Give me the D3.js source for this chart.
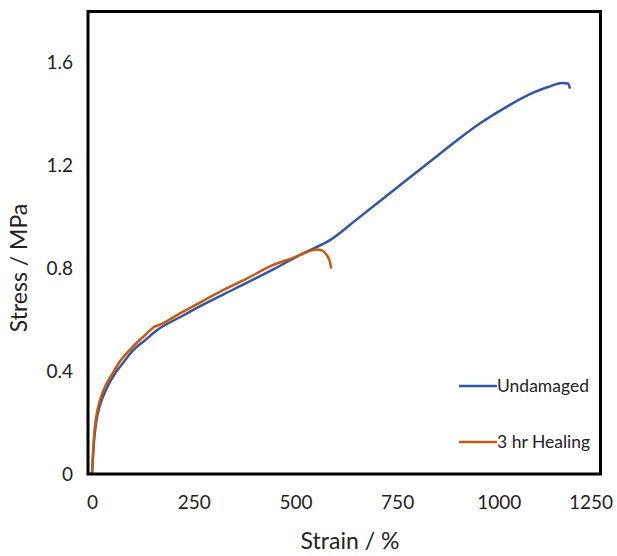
<!DOCTYPE html>
<html>
<head>
<meta charset="utf-8">
<script src="https://cdn.jsdelivr.net/npm/d3@7"></script>
<style>
	body { margin: 0; background: #fff; }
	svg { display: block; }
</style>
</head>
<body>
<div id="container"></div>
<script>

// ==============
//	DATA
// ==============

// Undamaged sample: strain (%) and stress (MPa)
var undamagedStrain = [0, 2, 5, 10, 20, 35, 52, 75, 100, 130, 160, 216, 274, 350, 450, 520, 585, 650, 750, 850, 954, 1020, 1086, 1119, 1156, 1170, 1175];
var undamagedStress = [0, 0.06, 0.13, 0.20, 0.27, 0.33, 0.38, 0.43, 0.48, 0.52, 0.56, 0.61, 0.66, 0.72, 0.80, 0.86, 0.91, 0.99, 1.115, 1.24, 1.365, 1.43, 1.485, 1.505, 1.522, 1.520, 1.50];

// 3 hr healing sample
var healedStrain = [0, 2, 5, 10, 20, 35, 50, 65, 97, 130, 155, 165, 216, 274, 315, 380, 440, 500, 530, 552, 565, 578, 584, 588];
var healedStress = [0, 0.07, 0.15, 0.22, 0.29, 0.35, 0.39, 0.43, 0.49, 0.54, 0.575, 0.58, 0.625, 0.675, 0.71, 0.76, 0.81, 0.845, 0.865, 0.874, 0.87, 0.85, 0.83, 0.80];

var xTicks = [0, 250, 500, 750, 1000, 1250];
var yTicks = [0, 0.4, 0.8, 1.2, 1.6];

var seriesNames = ["Undamaged", "3 hr Healing"];

// ==============
//	OPTIONS
// ==============

var width = 617,
	height = 556,
	plot = {left: 88, right: 600.5, top: 11.5, bottom: 474};

var colours = {
	"Undamaged": "#2f55a4",
	"3 hr Healing": "#c65911"
};

var fontFamily = "Lato, 'Open Sans', sans-serif";

// ==============
//	DRAW
// ==============

var svg = d3.select("#container").append("svg")
	.attr("width", width)
	.attr("height", height);

var x = d3.scaleLinear()
	.domain([-10, 1250])
	.range([plot.left, plot.right]);

var y = d3.scaleLinear()
	.domain([0, 1.8])
	.range([plot.bottom, plot.top]);

var series = [
	{name: seriesNames[0], pts: undamagedStrain.map((s, i) => [s, undamagedStress[i]])},
	{name: seriesNames[1], pts: healedStrain.map((s, i) => [s, healedStress[i]])}
];

var line = d3.line()
	.x(d => x(d[0]))
	.y(d => y(d[1]))
	.curve(d3.curveMonotoneX);

// === lines
svg.append("g")
	.attr("fill", "none")
	.attr("stroke-width", 2.5)
	.attr("stroke-linejoin", "round")
	.selectAll("path")
		.data(series)
		.join("path")
		.attr("stroke", d => colours[d.name])
		.attr("d", d => line(d.pts));

// === frame
svg.append("rect")
	.attr("x", plot.left)
	.attr("y", plot.top)
	.attr("width", plot.right - plot.left)
	.attr("height", plot.bottom - plot.top)
	.attr("fill", "none")
	.attr("stroke", "#000")
	.attr("stroke-width", 3);

// === axes (labels only, no tick marks)
var xAxis = svg.append("g")
	.attr("transform", "translate(0," + plot.bottom + ")")
	.call(d3.axisBottom(x).tickValues(xTicks).tickSize(0).tickPadding(22).tickFormat(d3.format("d")));

xAxis.select(".domain").remove();
xAxis.selectAll("text")
	.attr("dx", d => d === 1250 ? "-10" : 0);

var yAxis = svg.append("g")
	.attr("transform", "translate(" + plot.left + ",0)")
	.call(d3.axisLeft(y).tickValues(yTicks).tickSize(0).tickPadding(15).tickFormat(d => d === 0 ? "0" : d3.format(".1f")(d)));

yAxis.select(".domain").remove();

svg.selectAll(".tick text")
	.style("font-family", fontFamily)
	.style("font-size", "19px")
	.attr("fill", "#222");

// === axis titles
svg.append("text")
	.attr("x", 350)
	.attr("y", 549)
	.attr("text-anchor", "middle")
	.style("font-family", fontFamily)
	.style("font-size", "23px")
	.attr("fill", "#222")
	.text("Strain / %");

svg.append("text")
	.attr("transform", "translate(27,268) rotate(-90)")
	.attr("text-anchor", "middle")
	.style("font-family", fontFamily)
	.style("font-size", "23px")
	.attr("fill", "#222")
	.text("Stress / MPa");

// === legend
var legend = svg.append("g")
	.selectAll("g")
		.data(seriesNames)
		.join("g")
		.attr("transform", (d, i) => "translate(459," + (386 + i * 56) + ")");

legend.append("line")
	.attr("x1", 0)
	.attr("x2", 38)
	.attr("stroke", d => colours[d])
	.attr("stroke-width", 2.5);

legend.append("text")
	.attr("x", 38)
	.attr("dy", "0.35em")
	.style("font-family", fontFamily)
	.style("font-size", "17.5px")
	.attr("fill", "#222")
	.text(d => d);

</script>
</body>
</html>
